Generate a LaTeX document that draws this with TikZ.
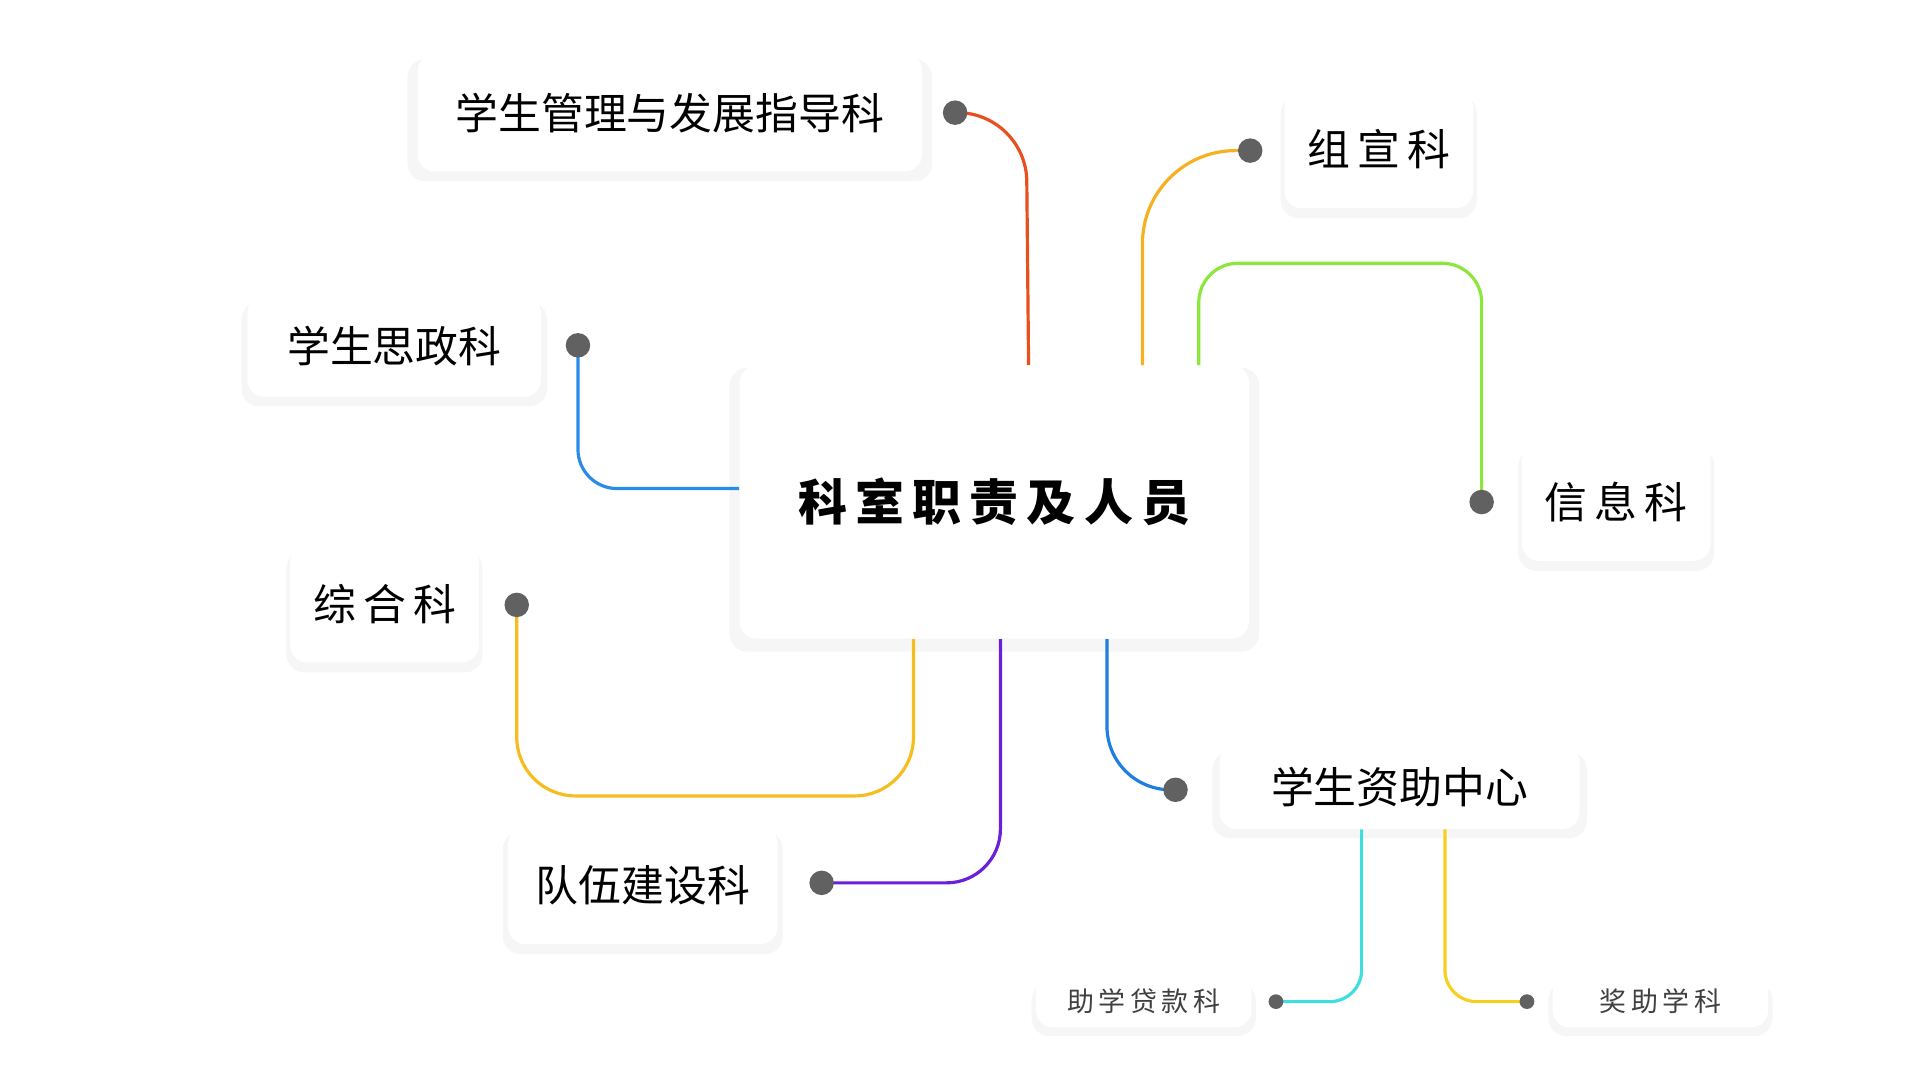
\documentclass[tikz,border=0pt]{standalone}
\usepackage{fontspec}
\setmainfont{Noto Sans CJK SC}
\usetikzlibrary{shadows}
\definecolor{cred}{HTML}{E8501F}
\definecolor{corange}{HTML}{F5B120}
\definecolor{cgreen}{HTML}{8BE83A}
\definecolor{cblue}{HTML}{2A8CE8}
\definecolor{cyellow}{HTML}{F5BE1E}
\definecolor{cpurple}{HTML}{6A1FD8}
\definecolor{cblueb}{HTML}{1E7FE0}
\definecolor{ccyan}{HTML}{40DDE0}
\definecolor{cyellowb}{HTML}{F5D020}
\definecolor{dotc}{HTML}{616161}
\tikzset{
  box/.style={fill=white, rounded corners=7pt, inner sep=0pt, align=center, text=black,
    drop shadow={opacity=0.07, shadow xshift=0pt, shadow yshift=-3pt, shadow scale=1.04}},
  bigdot/.style={circle, fill=dotc, inner sep=0pt, minimum size=10pt},
  smalldot/.style={circle, fill=dotc, inner sep=0pt, minimum size=6pt},
  conn/.style={line width=1.3pt},
}
\begin{document}
\begin{tikzpicture}[x=0.5pt,y=-0.5pt]
\useasboundingbox (0,0) rectangle (1568,882);
\fill[white] (0,0) rectangle (1568,882);
% nodes
\node[box, minimum width=208pt, minimum height=111.5pt, font=\fontsize{20}{24}\selectfont\bfseries] (main) at (812,410) {科\,室\,职\,责\,及\,人\,员};
\node[box, minimum width=206pt, minimum height=48pt, font=\fontsize{17.5}{20}\selectfont] (a) at (547,92) {学生管理与发展指导科};
\node[box, minimum width=77pt, minimum height=48pt, font=\fontsize{17.5}{20}\selectfont] (b) at (1126,122) {组\,宣\,科};
\node[box, minimum width=120pt, minimum height=41pt, font=\fontsize{17.5}{20}\selectfont] (c) at (322,283) {学生思政科};
\node[box, minimum width=77pt, minimum height=48pt, font=\fontsize{17.5}{20}\selectfont] (d) at (1320,410) {信\,息\,科};
\node[box, minimum width=77pt, minimum height=48pt, font=\fontsize{17.5}{20}\selectfont] (e) at (314,493) {综\,合\,科};
\node[box, minimum width=147pt, minimum height=34pt, font=\fontsize{17.5}{20}\selectfont] (f) at (1143,643) {学生资助中心};
\node[box, minimum width=110pt, minimum height=48pt, font=\fontsize{17.5}{20}\selectfont] (g) at (525,723) {队伍建设科};
\node[box, minimum width=88pt, minimum height=21pt, font=\fontsize{11}{13}\selectfont, text=black!75] (h) at (934,818) {助\,学\,贷\,款\,科};
\node[box, minimum width=88pt, minimum height=21pt, font=\fontsize{11}{13}\selectfont, text=black!75] (i) at (1356,818) {奖\,助\,学\,科};
% dot coordinates
\coordinate (pa) at (780,92);
\coordinate (pb) at (1021,123);
\coordinate (pc) at (472,282);
\coordinate (pd) at (1210,410);
\coordinate (pe) at (422,494);
\coordinate (pf) at (960,645);
\coordinate (pg) at (671,721);
\coordinate (ph) at (1042,818);
\coordinate (pi) at (1247,818);
% connectors
\draw[conn, cred, rounded corners=28pt] (main.north -| 840,0) -- (838,92) -- (pa);
\draw[conn, corange, rounded corners=38pt] (main.north -| 933,0) -- (933,123) -- (pb);
\draw[conn, cgreen, rounded corners=16pt] (main.north -| 979,0) -- (979,215) -- (1210,215) -- (pd);
\draw[conn, cblue, rounded corners=16pt] (main.west |- 0,399) -- (472,399) -- (pc);
\draw[conn, cyellow, rounded corners=24pt] (main.south -| 746,0) -- (746,650) -- (422,650) -- (pe);
\draw[conn, cpurple, rounded corners=22pt] (main.south -| 817,0) -- (817,721) -- (pg);
\draw[conn, cblueb, rounded corners=26pt] (main.south -| 904,0) -- (904,645) -- (pf);
\draw[conn, ccyan, rounded corners=13pt] (f.south -| 1112,0) -- (1112,818) -- (ph);
\draw[conn, cyellowb, rounded corners=13pt] (f.south -| 1180,0) -- (1180,818) -- (pi);
% dots
\foreach \p in {pa,pb,pc,pd,pe,pf,pg} \node[bigdot] (d\p) at (\p) {};
\foreach \p in {ph,pi} \node[smalldot] (d\p) at (\p) {};
\end{tikzpicture}
\end{document}
